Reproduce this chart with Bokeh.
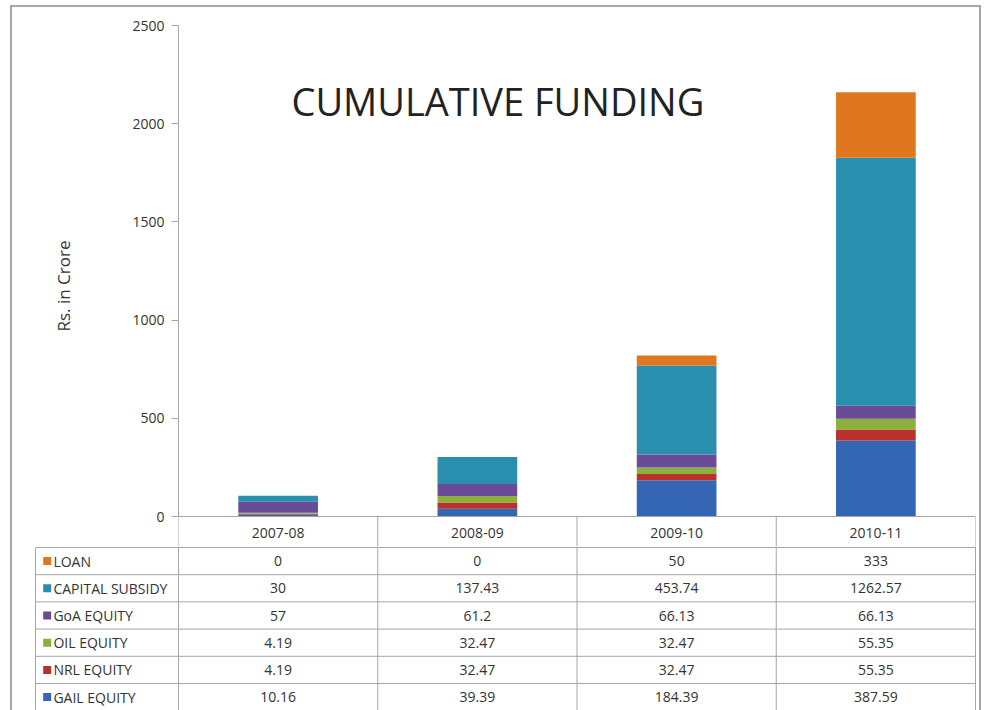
from bokeh.plotting import figure
from bokeh.models import FactorRange, Range1d, FixedTicker, Label, ColumnDataSource
from bokeh.layouts import column
from bokeh.core.properties import value
from bokeh.embed import file_html
from bokeh.resources import INLINE

# ---- data ----
years = ["2007-08", "2008-09", "2009-10", "2010-11"]
gail_equity = [10.16, 39.39, 184.39, 387.59]
nrl_equity = [4.19, 32.47, 32.47, 55.35]
oil_equity = [4.19, 32.47, 32.47, 55.35]
goa_equity = [57, 61.2, 66.13, 66.13]
capital_subsidy = [30, 137.43, 453.74, 1262.57]
loan = [0, 0, 50, 333]
series_names = ["GAIL EQUITY", "NRL EQUITY", "OIL EQUITY", "GoA EQUITY", "CAPITAL SUBSIDY", "LOAN"]
series_colors = ["#3466b3", "#b8312d", "#8cb03c", "#6a4b98", "#2a8fae", "#e0771f"]
y_ticks = [0, 500, 1000, 1500, 2000, 2500]
title_text = "CUMULATIVE FUNDING"
y_label = "Rs. in Crore"

FONT = "Open Sans"
TXT = "#333333"
GRID = "#a6a6a6"

series_values = [gail_equity, nrl_equity, oil_equity, goa_equity, capital_subsidy, loan]
data = {"year": years}
for n, v in zip(series_names, series_values):
    data[n] = v
source = ColumnDataSource(data)

ncol = len(years)
px_per_unit = 491 / 2500
below_px = 30                      # header row (years) lives in the chart figure
below = below_px / px_per_unit

# ---- chart ----
p = figure(width=967, height=509 + below_px, x_range=FactorRange(*years),
           y_range=Range1d(-below, 2500),
           output_backend="svg", toolbar_location=None, x_axis_location=None,
           min_border_left=166, min_border_right=4, min_border_top=18, min_border_bottom=0,
           frame_align=False)
p.vbar_stack(series_names, x="year", width=0.4, color=series_colors, source=source,
             line_color=None)
# table top line, header column lines and year labels
p.segment(x0=[0], y0=[0], x1=[ncol], y1=[0], line_color=GRID, line_width=1)
p.segment(x0=list(range(ncol + 1)), y0=[0] * (ncol + 1), x1=list(range(ncol + 1)),
          y1=[-below] * (ncol + 1), line_color=GRID, line_width=1)
p.text(x=years, y=[-16 / px_per_unit] * ncol, text=years,
       text_font=value(FONT), text_font_size="14px", text_color=TXT,
       text_align="center", text_baseline="middle")
p.xgrid.visible = False
p.ygrid.visible = False
p.outline_line_color = None
p.background_fill_color = "white"
p.border_fill_color = "white"

ya = p.yaxis[0]
ya.ticker = FixedTicker(ticks=y_ticks)
ya.bounds = (0, 2500)
ya.axis_line_color = GRID
ya.major_tick_line_color = GRID
ya.major_tick_out = 7
ya.major_tick_in = 0
ya.minor_tick_line_color = None
ya.major_label_text_font = FONT
ya.major_label_text_font_size = "14px"
ya.major_label_text_color = TXT
ya.major_label_standoff = 7
ya.axis_label = y_label
ya.axis_label_text_font = FONT
ya.axis_label_text_font_size = "17px"
ya.axis_label_text_font_style = "normal"
ya.axis_label_text_color = TXT
ya.axis_label_standoff = 54

p.add_layout(Label(x=1.603, y=2118, text=title_text, text_font=FONT,
                   text_font_size="38px", text_color="#222222",
                   text_align="center", text_baseline="alphabetic"))

# ---- data table (y in pixels below the zero line) ----
tbl_top = below_px
tbl_bot = 194
t = figure(width=967, height=tbl_bot - tbl_top, x_range=Range1d(-0.7277, 4.01),
           y_range=Range1d(tbl_bot, tbl_top),
           output_backend="svg", toolbar_location=None, x_axis_location=None,
           y_axis_location=None, min_border_left=21, min_border_right=2,
           min_border_top=0, min_border_bottom=0, frame_align=False)
t.xgrid.visible = False
t.ygrid.visible = False
t.outline_line_color = None
t.background_fill_color = "white"
t.border_fill_color = "white"

label_left = -0.7177
header_bot = 31
nrows = len(series_names)
row_h = 27.2

# grid lines
x0, y0, x1, y1 = [], [], [], []
for k in range(nrows):
    yy = header_bot + k * row_h
    x0.append(label_left); x1.append(ncol); y0.append(yy); y1.append(yy)
for c in range(ncol + 1):
    x0.append(c); x1.append(c); y0.append(tbl_top); y1.append(tbl_bot)
x0.append(label_left); x1.append(label_left); y0.append(header_bot); y1.append(tbl_bot)
t.segment(x0=x0, y0=y0, x1=x1, y1=y1, line_color=GRID, line_width=1)

# rows: top to bottom LOAN ... GAIL
order = list(range(nrows))[::-1]
for r, si in enumerate(order):
    yc = header_bot + (r + 0.5) * row_h
    t.scatter(x=[label_left + 0.0587], y=[yc], marker="square", size=8,
              fill_color=series_colors[si], line_color=None)
    t.text(x=[label_left + 0.09], y=[yc], text=[series_names[si]],
           text_font=value(FONT), text_font_size="14px", text_color=TXT,
           text_align="left", text_baseline="middle")
    vals = series_values[si]
    t.text(x=[i + 0.5 for i in range(ncol)], y=[yc] * ncol, text=[f"{v:g}" for v in vals],
           text_font=value(FONT), text_font_size="14px", text_color=TXT,
           text_align="center", text_baseline="middle")

layout = column(p, t, spacing=0, margin=(5, 0, 0, 10),
                styles={"border-top": "2px solid #a6a6a6",
                        "border-left": "2px solid #a6a6a6",
                        "border-right": "2px solid #a6a6a6"})
open("out.html", "w").write(file_html(layout, INLINE))
